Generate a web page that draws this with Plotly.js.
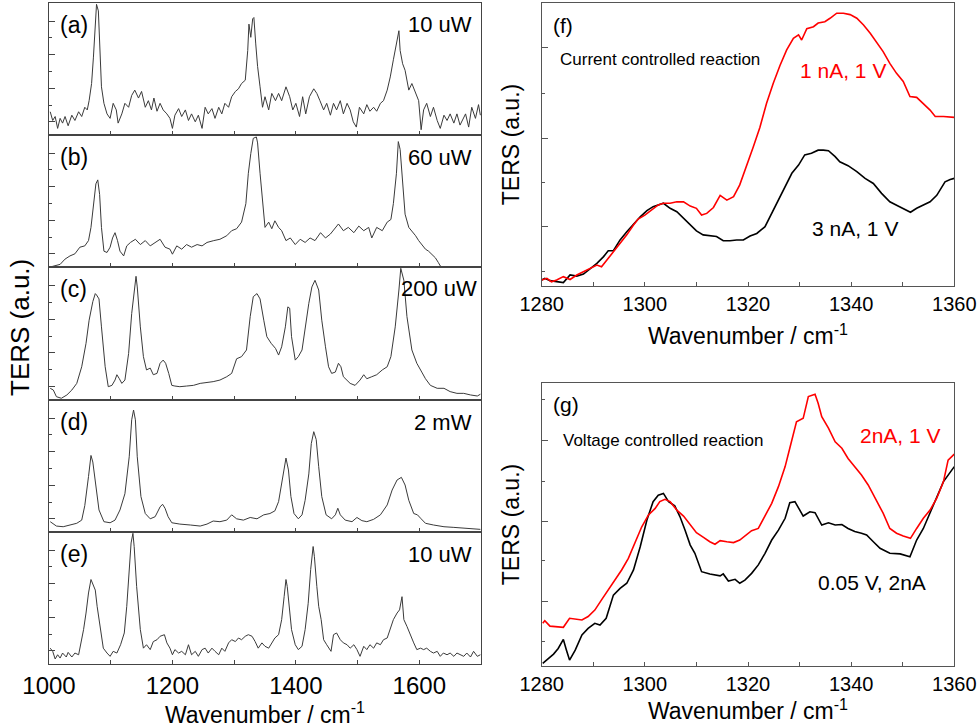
<!DOCTYPE html>
<html>
<head>
<meta charset="utf-8">
<script src="https://cdn.plot.ly/plotly-3.0.1.min.js"></script>
<style>
  html, body { margin: 0; padding: 0; background: #fff; }
  #myDiv { width: 979px; height: 728px; }
</style>
</head>
<body>
<div id="myDiv"></div>
<script>
// ---- left stack: TERS spectra at different laser powers (a.u., 0-100 per panel)
var a_x = [1002,1006,1010,1014,1018,1022,1026,1031,1037,1042,1048,1053,1058,1062,1065,1069,1072,1075,1077,1080,1083,1085,1089,1094,1099,1104,1109,1112,1118,1123,1129,1134,1139,1145,1150,1156,1161,1166,1170,1175,1180,1185,1191,1196,1200,1204,1210,1215,1221,1226,1231,1237,1242,1248,1253,1258,1264,1269,1275,1280,1285,1291,1296,1302,1307,1312,1318,1322,1324,1327,1330,1332,1335,1338,1342,1346,1350,1356,1361,1367,1372,1377,1384,1390,1395,1400,1406,1411,1416,1422,1429,1434,1439,1445,1450,1456,1461,1466,1472,1477,1483,1488,1493,1498,1503,1510,1515,1520,1526,1531,1537,1542,1548,1553,1558,1563,1567,1569,1573,1577,1583,1588,1594,1599,1603,1607,1612,1618,1623,1629,1634,1640,1645,1650,1656,1661,1666,1675,1680,1685,1691,1696,1699];
var a_y = [17.6,11,14,5,12.6,9,14,7,15,11,17.6,14,21,19,26,39,59,87,99,94,64,36.5,24,16,12.6,24,19,9,16,24,21,30,34,28,33,21,26,19,28,18,24,19,16,12.6,5,15,20,14,19,11,16,10,15,5,21,16,20,12.6,21,16,24,21,29,33,35,39,41.5,64,84,74,88,89,69,52,36.5,21,29,19,31.5,26,31.5,26,36.5,29,19,24,14,29,16,29,35,31.5,26,19,24,15,24,19,26,16,24,19,10,6,21,16,23,18,21,18,24,26,34,44,57,69,79,64,54,49,34,39,31.5,26,4,19,24,14,21,11,5,15,11,16,9,16,7.5,16,6,21,12.6,23,15];

var b_x = [1002,1010,1018,1026,1034,1042,1050,1058,1064,1068,1072,1076,1079,1082,1085,1089,1094,1099,1103,1107,1111,1115,1121,1126,1132,1140,1148,1156,1164,1172,1180,1188,1196,1200,1207,1215,1223,1231,1240,1248,1256,1267,1277,1288,1296,1304,1312,1319,1323,1327,1331,1336,1338,1342,1346,1350,1356,1361,1366,1372,1377,1384,1391,1399,1407,1415,1423,1431,1440,1448,1456,1464,1469,1477,1485,1494,1502,1510,1518,1523,1531,1540,1548,1554,1558,1563,1566,1569,1573,1577,1583,1588,1594,1599,1604,1610,1615,1620,1626,1631,1634,1640];
var b_y = [0,1,2,6,8.4,10,15,16,20,30,45,63,66,55,30,12,11,15,22,26,20,12,8.4,16,18.6,21,17,20,16,18.6,21,15,13.5,9.7,16,13.5,17,15,17,16,18.6,20,21,23.7,27.5,29,34,48,71,86,97.5,98.5,94,71,48,30,34,29,35,30,27.5,20,22,17,21,18.6,22,20,26,22,25,30,32.6,27.5,30,26,31,27.5,30,22,30,27.5,34,36,48,71,95,89,66,40,30,27.5,23.7,20,17,13.5,12,9.7,7,3.3,0.8,-1];

var c_x = [1002,1007,1012,1020,1029,1037,1045,1053,1060,1065,1071,1075,1077,1081,1085,1091,1096,1102,1107,1110,1114,1118,1123,1129,1134,1138,1141,1143,1148,1153,1158,1164,1169,1175,1180,1185,1189,1194,1199,1204,1212,1223,1234,1245,1256,1266,1277,1288,1296,1304,1312,1320,1326,1331,1337,1342,1348,1353,1360,1367,1372,1377,1383,1387,1390,1393,1399,1404,1410,1415,1421,1426,1431,1437,1442,1448,1453,1458,1464,1469,1473,1477,1483,1488,1496,1504,1510,1515,1523,1531,1540,1548,1554,1561,1567,1570,1575,1580,1588,1596,1604,1610,1618,1629,1640,1650,1661,1672,1683,1694,1699];
var c_y = [8.8,7.5,2.5,1.3,3.8,7.5,12.5,25,42.6,60,74,80,79,76,55,25,10,11,15,19,16,12.5,15,35,65,83,93,85,55,32.6,22.6,24,19,20,27.6,30,27.6,20,11,10.5,10,10.5,11,12.5,13,13.8,15,17.5,20,31,32.6,37.6,62.7,77.7,80,76,60,47.6,42.6,38.8,33.8,40,55,70,69,47.6,30,32.6,37.6,55,72.7,85,90,82.7,60,40,25,20,21,27.6,25,17.5,15,12.5,11,15,19,16,17.5,19,22.6,25,32.6,55,82.7,99,90,62.7,37.6,27.6,21,16,11,8.8,8.8,6.3,5,5,3.8,3,4.3];

var d_x = [1002,1006,1012,1023,1034,1045,1053,1058,1064,1068,1071,1075,1081,1089,1099,1107,1115,1123,1130,1134,1137,1140,1143,1149,1156,1164,1172,1180,1184,1188,1193,1199,1212,1229,1245,1256,1266,1277,1288,1296,1304,1315,1326,1337,1348,1358,1366,1372,1377,1381,1384,1388,1392,1397,1404,1410,1415,1421,1425,1429,1433,1437,1442,1449,1458,1464,1468,1472,1480,1491,1499,1507,1515,1526,1537,1548,1556,1564,1571,1577,1583,1591,1597,1603,1610,1623,1640,1656,1677,1699];
var d_y = [7.8,6.6,4.5,4,5.3,6.6,9,20,42,58,53,37,16.7,7.8,7,9,16.7,29,57,85,92.4,85,57,26.8,14,10,11.6,19,21,18,11.6,7,6,5.3,4.5,6,8.3,7.8,9,13,10,9,11,10,13,14,16,23,37,50.8,56,47,26.8,14,10,13,24,44,67,76,70,49.5,26.8,13,10,13,18,13,9,7.8,11,8.6,7.8,9.6,13,20.5,31.8,39.4,41.4,35.6,24,14,13,10,6.6,5.3,4,3.5,2.8,2];

var e_x = [1002,1006,1010,1014,1018,1022,1028,1031,1037,1042,1048,1051,1056,1060,1064,1068,1071,1075,1078,1083,1088,1094,1099,1104,1110,1116,1122,1126,1130,1133,1136,1138,1142,1148,1153,1158,1164,1169,1175,1180,1187,1191,1196,1200,1204,1210,1215,1221,1226,1231,1237,1242,1248,1253,1258,1264,1269,1275,1280,1285,1291,1296,1302,1307,1312,1318,1323,1329,1334,1339,1345,1350,1356,1361,1366,1372,1377,1381,1384,1386,1390,1393,1399,1404,1410,1415,1420,1424,1428,1430,1434,1437,1441,1445,1450,1457,1461,1466,1472,1477,1483,1488,1494,1499,1504,1510,1515,1520,1526,1531,1537,1542,1548,1553,1558,1564,1568,1572,1575,1580,1585,1591,1596,1602,1607,1612,1618,1623,1629,1634,1639,1645,1650,1656,1661,1666,1672,1677,1683,1688,1694,1699];
var e_y = [12,9.6,3.8,7,4.5,8.3,5.3,8.8,5.3,8.3,7,13.4,26,38.6,53.8,64,60,56,43.7,26,12,8.3,5.8,9.6,8.3,14.6,23.5,43.7,69,91.7,99,89,58.8,26,12,14.6,10.9,17,18.4,21,22.2,16,12,7,10.9,8.3,9.6,7,14.6,7,9.6,5.8,10.9,12,8.3,12,9.6,7,12,9.6,16,18.4,17,19.7,18.4,21,22.2,21,17,12,16,13.4,12,16,19.7,22.2,33.6,51,64,58.8,41,26,14.6,10.9,13.4,26,46,71.5,89,81.6,58.8,43.7,33.6,18.4,14.6,9.6,22.2,23.5,18.4,16,14.6,12,14.6,10.9,5.8,13.4,10.9,14.6,12,16,14.6,18.4,19.7,26,33.6,38.6,41,51,33.6,28.5,22.2,16,10.9,12,10.9,12,9.6,8.3,9.6,5.8,8.3,7,8.3,5.8,8.3,7,5.8,8.3,5.3,9.6,5.8,7];

var left_labels = ['(a)', '(b)', '(c)', '(d)', '(e)'];
var left_powers = ['10 uW', '60 uW', '200 uW', '2 mW', '10 uW'];

// ---- (f) current controlled reaction
var f_red_x = [1280.0,1281.0,1281.9,1282.9,1284.2,1285.5,1286.8,1288.1,1289.4,1290.7,1291.6,1292.6,1293.9,1295.2,1296.5,1297.8,1298.7,1300.0,1301.3,1302.6,1303.6,1304.9,1306.2,1307.5,1308.8,1310.0,1311.0,1312.0,1313.3,1314.6,1315.9,1317.2,1318.4,1319.7,1321.0,1322.3,1323.6,1324.9,1326.2,1327.5,1328.8,1329.8,1330.4,1331.4,1332.7,1333.6,1334.9,1335.9,1337.2,1338.5,1339.8,1341.1,1342.4,1343.7,1344.9,1346.2,1347.5,1348.8,1350.1,1351.4,1352.7,1354.0,1355.3,1356.3,1357.9,1360.0];
var f_red_y = [2,2.6,1.4,2,3.2,2.2,3.8,5,6.1,7.3,6.7,9,12,15,18,21.5,23.6,25,26.8,28.6,29.2,29.2,29.7,29.7,28.2,27.4,25,25.6,27.7,32,30.3,31.5,35.7,42,49,56,64.6,71.7,78,83.5,87.6,88.8,87,91,91.7,93,93.5,94.7,96.5,96.5,96,94.7,92.3,89.4,86.4,82.9,78.7,75.2,72.3,67,66.7,64.6,62.2,59.9,59.9,59.6];
var f_blk_x = [1280.0,1280.6,1281.6,1282.9,1284.2,1285.5,1286.8,1288.1,1289.4,1290.7,1292.0,1292.9,1293.9,1295.2,1296.5,1297.8,1299.1,1300.4,1301.6,1303.6,1304.9,1306.2,1307.5,1308.8,1310.0,1311.3,1312.6,1313.9,1315.2,1316.5,1317.8,1319.1,1320.4,1321.7,1323.3,1324.6,1325.9,1327.2,1328.5,1329.8,1331.0,1332.3,1333.6,1334.6,1335.6,1336.9,1337.8,1339.4,1341.1,1342.7,1344.3,1345.9,1347.5,1349.1,1350.4,1351.5,1352.7,1354.0,1355.3,1356.6,1358.2,1359.2,1360.0];
var f_blk_y = [2,2.6,1.8,1.4,1.1,3.8,3.4,4.1,6.1,7.9,10.3,12.4,12.4,16.2,19.1,21.8,24.4,26.6,28,29.2,27.4,26.2,23.8,21.5,19.4,18,17.6,17.4,15.9,15.9,16.2,16.2,17.6,18.5,20.9,25.6,30.3,35,39.8,42.7,46.3,46.9,48,48,47.8,45.7,43.9,42.5,40.4,38,36.2,32.7,29.7,28.2,27,26,27.4,28.6,29.7,32,36.8,37.6,38];

// ---- (g) voltage controlled reaction
var g_red_x = [1280.2,1280.6,1281.6,1282.9,1284.2,1285.4,1286.5,1287.8,1289.0,1290.3,1291.6,1292.9,1294.2,1295.5,1296.8,1298.1,1299.4,1300.7,1302.0,1302.9,1303.9,1304.9,1306.2,1307.5,1308.8,1310.0,1311.3,1312.6,1313.6,1314.6,1315.9,1317.2,1318.4,1319.7,1320.7,1322.0,1323.3,1324.6,1325.9,1327.2,1328.1,1329.4,1330.7,1331.7,1333.0,1333.6,1334.3,1335.6,1336.9,1338.2,1339.4,1340.7,1342.0,1343.3,1344.9,1346.2,1347.5,1348.8,1350.1,1351.5,1352.7,1354.0,1355.3,1356.6,1357.9,1358.8,1360.0];
var g_red_y = [15,15.9,14,13.8,13.6,16.8,16.5,16.2,17.4,19.7,23.3,26.8,30.3,33.9,38,43.3,49.2,53.4,55.7,58.1,58.9,58.1,55.1,53,49.8,47.1,45.5,43.9,43,44.3,43.9,43.6,44.5,46.3,47.8,48.6,52.8,57.5,63.4,70.5,77,86.4,87.6,95.3,96.1,92.9,88.2,84.1,79.3,77,73.4,70.5,67.5,64,58.7,54,48.6,46.9,45.9,45.1,48.6,52.2,55.1,59.3,65.2,72.8,74.9];
var g_blk_x = [1280.2,1281.3,1282.3,1283.2,1284.2,1284.8,1285.4,1286.5,1287.8,1289.0,1290.3,1291.3,1292.5,1293.9,1295.2,1296.5,1297.8,1299.1,1300.4,1301.6,1302.6,1303.6,1304.6,1305.8,1306.8,1307.8,1308.8,1309.7,1311.0,1312.6,1314.6,1315.2,1316.2,1317.5,1318.4,1319.4,1320.7,1322.0,1323.3,1324.6,1325.9,1327.2,1328.1,1329.1,1329.8,1330.7,1332.0,1333.0,1334.3,1335.6,1336.9,1338.2,1339.4,1340.7,1342.0,1343.0,1344.3,1345.6,1347.5,1349.5,1351.4,1352.7,1354.0,1355.3,1356.6,1357.9,1360.0];
var g_blk_y = [0.8,2.6,4.1,6.1,9.3,5.5,2,5.5,10.9,13.2,15,14.4,16.8,25,27.4,29.2,33.9,42.1,51.6,58.1,60.4,61,58.1,56.6,52.8,48,42.7,39.8,33.3,32.5,31.8,32.5,30,30.6,29.2,30.3,32.7,35.7,39.8,44.5,48,52.2,57.7,58.1,55.7,53,54.5,54.2,49.8,50.6,49.8,50,48.6,47.5,46.9,46.3,43.9,41.6,39.8,39.6,38.6,44.5,48.6,54,59.9,65.2,70.5];

// ---------------------------------------------------------------
var W = 979, H = 728;
var FONT = 'Liberation Sans, Arial, sans-serif';
var BOX = '#444';
function px(x){ return x / W; }
function py(y){ return 1 - y / H; }

// panel boxes in page pixels
var leftEdges = [3, 135, 267, 400, 532, 664];
var LX0 = 49, LX1 = 481;
var RX0 = 541.7, RX1 = 954.3;

var data = [];
var layout = {
    width: W, height: H,
    margin: {l: 0, r: 0, t: 0, b: 0},
    paper_bgcolor: 'white',
    plot_bgcolor: 'white',
    showlegend: false,
    font: {family: FONT, color: 'black'},
    annotations: []
};

var leftSeries = [[a_x, a_y], [b_x, b_y], [c_x, c_y], [d_x, d_y], [e_x, e_y]];
for (var i = 0; i < 5; i++) {
    var n = i === 0 ? '' : String(i + 1);
    data.push({
        x: leftSeries[i][0], y: leftSeries[i][1],
        xaxis: 'x' + n, yaxis: 'y' + n,
        mode: 'lines',
        line: {color: '#3a3a3a', width: 1}
    });
    var last = (i === 4);
    var xa = {
        domain: [px(LX0), px(LX1)],
        anchor: 'y' + n,
        range: [1000, 1700],
        showline: true, mirror: true, linecolor: BOX, linewidth: 1.2,
        showgrid: false, zeroline: false,
        ticks: 'inside', ticklen: 4, tickcolor: BOX,
        tick0: 1000, dtick: 200,
        minor: {ticks: 'inside', ticklen: 4, tickcolor: BOX, tick0: 1000, dtick: 100},
        showticklabels: last,
        tickfont: {family: FONT, size: 24, color: 'black'}
    };
    if (last) {
        xa.title = {
            text: 'Wavenumber / cm<sup>-1</sup>',
            font: {family: FONT, size: 23, color: 'black'},
            standoff: 5
        };
    }
    layout['xaxis' + n] = xa;
    layout['yaxis' + n] = {
        domain: [py(leftEdges[i + 1]), py(leftEdges[i])],
        anchor: 'x' + n,
        range: [0, 100],
        showline: true, mirror: true, linecolor: BOX, linewidth: 1.2,
        showgrid: false, zeroline: false,
        ticks: 'inside', ticklen: 6, tickcolor: BOX,
        tickmode: 'array', tickvals: [10, 35.4, 60.8, 86.2],
        minor: {ticks: 'inside', ticklen: 3, tickcolor: BOX, tickmode: 'array', tickvals: [22.7, 48.1, 73.5]},
        showticklabels: false
    };
    var yMid = leftEdges[i] + 22;
    layout.annotations.push({
        text: left_labels[i], xref: 'paper', yref: 'paper',
        x: px(58), y: py(yMid), xanchor: 'left', yanchor: 'middle',
        showarrow: false, font: {family: FONT, size: 23, color: 'black'}
    });
    layout.annotations.push({
        text: left_powers[i], xref: 'paper', yref: 'paper',
        x: px(i === 2 ? 479 : 474), y: py(yMid), xanchor: 'right', yanchor: 'middle',
        showarrow: false, font: {family: FONT, size: 22, color: 'black'}
    });
}

// shared y title of left stack
layout.annotations.push({
    text: 'TERS (a.u.)', xref: 'paper', yref: 'paper',
    x: px(20), y: py(328), xanchor: 'center', yanchor: 'middle', textangle: -90,
    showarrow: false, font: {family: FONT, size: 26, color: 'black'}
});

// ---- right panels
var rightPanels = [
    {n: '6', top: 3.3, bot: 285.7, red: [f_red_x, f_red_y], blk: [f_blk_x, f_blk_y],
     major: [20.8, 52.3, 84.2], minor: [4.9, 36.4, 68.2], stand: 14},
    {n: '7', top: 383.3, bot: 665.7, red: [g_red_x, g_red_y], blk: [g_blk_x, g_blk_y],
     major: [22.6, 51.2, 79.9], minor: [8.4, 37.1, 65.4, 94.1], stand: 6}
];
rightPanels.forEach(function(p){
    data.push({x: p.blk[0], y: p.blk[1], xaxis: 'x' + p.n, yaxis: 'y' + p.n,
        mode: 'lines', line: {color: 'black', width: 1.6}});
    data.push({x: p.red[0], y: p.red[1], xaxis: 'x' + p.n, yaxis: 'y' + p.n,
        mode: 'lines', line: {color: '#ff0000', width: 1.6}});
    layout['xaxis' + p.n] = {
        domain: [px(RX0), px(RX1)], anchor: 'y' + p.n,
        range: [1280, 1360],
        showline: true, mirror: true, linecolor: '#555', linewidth: 1,
        showgrid: false, zeroline: false,
        ticks: 'inside', ticklen: 4, tickcolor: '#555',
        tick0: 1280, dtick: 20,
        minor: {ticks: 'inside', ticklen: 4, tickcolor: '#555', tick0: 1280, dtick: 10},
        tickfont: {family: FONT, size: 20, color: 'black'},
        title: {text: 'Wavenumber / cm<sup>-1</sup>', font: {family: FONT, size: 23, color: 'black'}, standoff: p.stand}
    };
    layout['yaxis' + p.n] = {
        domain: [py(p.bot), py(p.top)], anchor: 'x' + p.n,
        range: [0, 100],
        showline: true, mirror: true, linecolor: '#555', linewidth: 1,
        showgrid: false, zeroline: false,
        ticks: 'inside', ticklen: 6, tickcolor: '#555',
        tickmode: 'array', tickvals: p.major,
        minor: {ticks: 'inside', ticklen: 3, tickcolor: '#555', tickmode: 'array', tickvals: p.minor},
        showticklabels: false,
        title: {text: 'TERS (a.u.)', font: {family: FONT, size: 23, color: 'black'}, standoff: 14}
    };
});

function note(text, x, y, size, color, anchor){
    layout.annotations.push({
        text: text, xref: 'paper', yref: 'paper', x: px(x), y: py(y),
        xanchor: anchor || 'left', yanchor: 'middle', showarrow: false,
        font: {family: FONT, size: size, color: color}
    });
}
note('(f)', 551, 26, 21, 'black');
note('Current controlled reaction', 558, 59, 17, 'black');
note('1 nA, 1 V', 798, 70, 21, '#ff0000');
note('3 nA, 1 V', 810, 228, 21, 'black');
note('(g)', 551, 404, 21, 'black');
note('Voltage controlled reaction', 561, 440, 17, 'black');
note('2nA, 1 V', 858, 435, 21, '#ff0000');
note('0.05 V, 2nA', 816, 582, 21, 'black');

Plotly.newPlot('myDiv', data, layout, {staticPlot: true});
</script>
</body>
</html>
